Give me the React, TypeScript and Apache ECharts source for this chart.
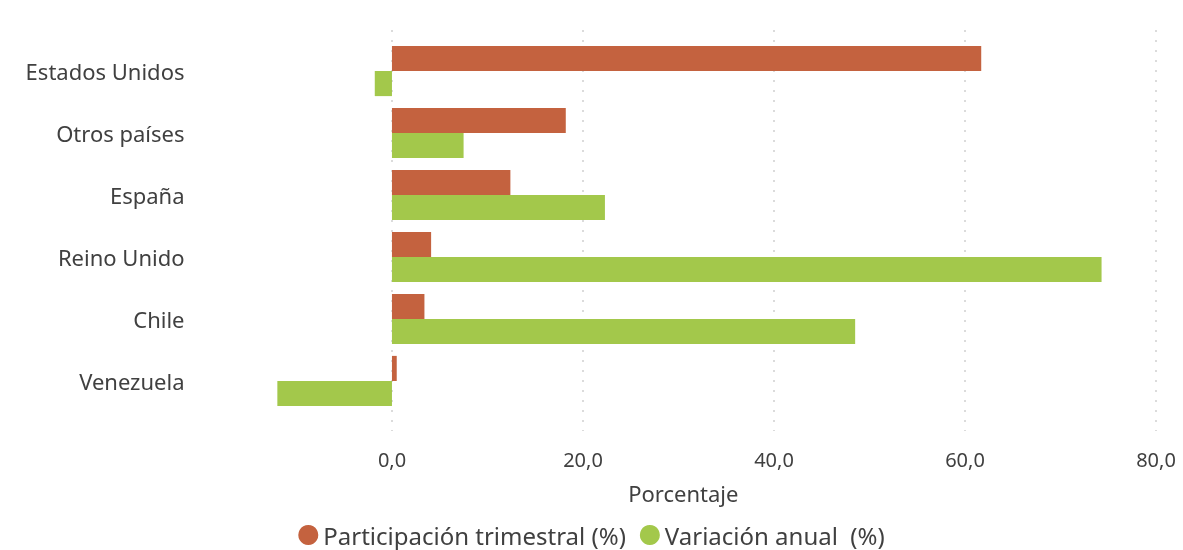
import React, { useEffect, useRef } from "react";
import * as echarts from "echarts";

const categories = ["Estados Unidos", "Otros países", "España", "Reino Unido", "Chile", "Venezuela"];
const participacion = [61.7, 18.2, 12.4, 4.1, 3.4, 0.5];
const variacion = [-1.8, 7.5, 22.3, 74.3, 48.5, -12.0];
const tickValues = [0, 20, 40, 60, 80];

const RED = "#C4623F";
const GREEN = "#A3C84B";
const TEXT = "#404040";
const FONT = "Noto Sans";

export default function App() {
  const ref = useRef<HTMLDivElement>(null);
  useEffect(() => {
    if (!ref.current) return;
    const chart = echarts.init(ref.current, undefined, { renderer: "svg" });
    chart.setOption({
      animation: false,
      textStyle: { fontFamily: FONT, color: TEXT },
      legend: {
        top: 521,
        left: "center",
        padding: 0,
        icon: "circle",
        itemWidth: 20,
        itemHeight: 20,
        itemGap: 14,
        textStyle: { fontSize: 24, color: TEXT, fontFamily: FONT, lineHeight: 28 },
        data: ["Participación trimestral (%)", "Variación anual  (%)"],
      },
      grid: [
        { left: 210.5, right: 27, top: 40, height: 372 },
        { left: 392, right: 27, top: 30, height: 401 },
      ],
      xAxis: [
        {
          gridIndex: 0,
          type: "value",
          min: -19,
          max: 80,
          axisLine: { show: false },
          axisTick: { show: false },
          axisLabel: { show: false },
          splitLine: { show: false },
          name: "Porcentaje",
          nameLocation: "middle",
          nameGap: 70,
          nameTextStyle: { fontSize: 22, color: TEXT, fontFamily: FONT },
        },
        {
          gridIndex: 1,
          type: "value",
          min: tickValues[0],
          max: tickValues[tickValues.length - 1],
          interval: 20,
          axisLine: { show: false },
          axisTick: { show: false },
          axisLabel: {
            fontSize: 20,
            color: TEXT,
            fontFamily: FONT,
            margin: 18,
            formatter: (v: number) => v.toFixed(1).replace(".", ","),
          },
          splitLine: { show: true, lineStyle: { color: "#D0D0D0", width: 1.5, type: [2, 8] } },
        },
      ],
      yAxis: [
        {
          gridIndex: 0,
          type: "category",
          inverse: true,
          data: categories,
          axisLine: { show: false },
          axisTick: { show: false },
          axisLabel: { fontSize: 22, color: TEXT, fontFamily: FONT, margin: 26 },
        },
        {
          gridIndex: 1,
          type: "value",
          min: 0,
          max: 1,
          show: false,
          splitLine: { show: false },
        },
      ],
      series: [
        {
          name: "Participación trimestral (%)",
          type: "bar",
          xAxisIndex: 0,
          yAxisIndex: 0,
          data: participacion,
          itemStyle: { color: RED },
          barGap: "0%",
          barCategoryGap: "19%",
        },
        {
          name: "Variación anual  (%)",
          type: "bar",
          xAxisIndex: 0,
          yAxisIndex: 0,
          data: variacion,
          itemStyle: { color: GREEN },
          barGap: "0%",
          barCategoryGap: "19%",
        },
      ],
    });
    return () => chart.dispose();
  }, []);
  return (
    <div
      ref={ref}
      style={{ position: "fixed", left: 0, top: 0, width: 1183, height: 550 }}
    />
  );
}
